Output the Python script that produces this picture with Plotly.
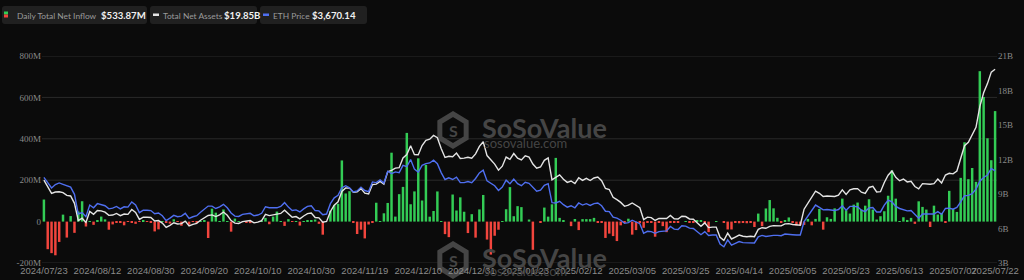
import math
import pandas as pd
import plotly.graph_objects as go

# ---------------- data ----------------
HOLIDAYS = ["2024-09-02", "2024-11-28", "2024-12-25", "2025-01-01", "2025-01-09",
            "2025-01-20", "2025-02-17", "2025-04-18", "2025-05-26", "2025-06-19", "2025-07-04"]
DATES = [d.strftime("%Y/%m/%d") for d in
         pd.bdate_range("2024-07-23", "2025-07-22", freq="C", holidays=HOLIDAYS)]

TICK_LABELS = ["2024/07/23", "2024/08/12", "2024/08/30", "2024/09/20", "2024/10/10",
               "2024/10/30", "2024/11/19", "2024/12/10", "2024/12/31", "2025/01/23",
               "2025/02/12", "2025/03/05", "2025/03/25", "2025/04/14", "2025/05/05",
               "2025/05/23", "2025/06/13", "2025/07/07", "2025/07/22"]

# Daily total net inflow (M USD)
INFLOW = [
    106.6, -133.3, -152.3, -162.7, -98.3, 33.7, -77.2, 26.7, -54.3, 48.8,
    98.4, -23.7, 2.9, -15.7, 4.9, 24.3, 10.8, -39.2, -13.5, -6.5,
    -6.5, -17.9, -0.5, -3.4, -10.8, -1.8, 5.8, -1.9, -5.2, -47.4,
    -37.5, 0.9, -5.2, -9.8, 11.4, -0.5, -20.1, 1.1, -15.1, -1.0,
    -6.5, 0.5, 5.2, -79.3, 62.5, 43.2, 0.5, 58.7, 0.6, -48.6,
    14.5, 0.7, 0.0, -2.0, -7.4, 0.0, 0.0, 0.1, 17.8, -12.7,
    24.2, 48.4, 2.3, -20.8, 11.9, -1.1, 1.2, -19.2, 0.5, 7.6,
    4.4, 10.0, -10.9, -63.2, 0.0, 52.3, 79.7, 85.9, 295.5, 135.9,
    146.9, -3.2, -59.8, -39.1, -81.2, -14.0, -6.0, 91.2, 2.8, 40.1,
    90.1, 332.9, 24.2, 132.6, 167.7, 428.5, 83.8, 145.9, 305.7, 102.0,
    273.7, 23.7, 51.1, 145.7, 2.4, -60.5, -75.1, 130.8, 53.6, 117.2,
    47.7, -55.4, 35.9, -77.5, 58.9, 128.7, -86.8, -159.4, -68.4, -39.4,
    0.1, 59.8, 166.6, 26.0, 74.6, 70.0, 0.0, 10.0, -136.2, 0.0,
    -3.0, 67.8, 24.0, 83.6, 307.8, 18.0, 5.0, 0.0, -22.0, 12.6,
    -41.0, 12.0, 12.0, 12.0, 18.0, -3.0, -3.0, -79.0, -58.0, -70.0,
    -94.0, -18.0, -3.0, 14.0, -63.0, -41.0, -5.0, -30.0, -3.0, -3.0,
    -73.0, -3.0, -22.0, -51.0, -6.0, -2.0, -6.0, 0.0, 1.0, -3.0,
    -6.0, 4.0, 4.0, -3.0, -51.0, 0.0, 2.0, 0.0, -4.0, -38.0,
    -38.0, -3.0, -8.0, -2.0, -8.0, -3.0, -26.0, 38.8, -22.0, 63.5,
    104.1, 64.1, 18.4, -2.0, 6.5, 20.1, -2.0, -18.0, -18.0, -16.0,
    13.0, -18.0, 13.0, 61.0, -39.0, 21.0, 13.0, 64.0, 0.0, 111.0,
    55.0, 39.0, 82.0, 92.0, 58.0, 77.0, 108.0, 58.0, 10.0, 26.0,
    50.0, 125.0, 247.0, 111.0, 2.0, 21.0, 8.0, 18.0, -11.0, 98.0,
    71.0, 58.0, -26.0, 77.0, 34.0, 42.0, -2.0, 148.5, 62.0, 46.8,
    211.3, 383.1, 204.9, 259.0, 192.3, 726.7, 602.0, 402.5, 296.6, 533.87,
]

# Total net assets (B USD)
NET_ASSETS = [
    10.20, 9.65, 9.05, 9.17, 9.20, 9.12, 8.88, 8.83, 8.19, 6.68,
    6.89, 6.53, 7.48, 7.23, 7.56, 7.53, 7.42, 7.14, 7.17, 7.31,
    7.12, 7.26, 7.23, 7.65, 7.40, 6.79, 6.98, 6.98, 6.96, 6.66,
    6.69, 6.47, 6.09, 6.28, 6.50, 6.39, 6.42, 6.64, 6.23, 6.36,
    6.45, 6.72, 6.96, 7.13, 7.18, 7.04, 7.18, 7.43, 7.15, 6.69,
    6.47, 6.44, 6.60, 6.63, 6.69, 6.49, 6.55, 6.69, 7.23, 7.12,
    7.18, 7.20, 7.31, 7.59, 7.26, 6.98, 7.04, 6.84, 7.09, 7.29,
    7.34, 6.96, 6.93, 6.55, 6.61, 7.48, 8.03, 8.32, 9.22, 9.53,
    9.51, 9.15, 9.18, 9.47, 9.08, 9.00, 9.82, 9.86, 10.09, 9.86,
    10.94, 11.06, 11.25, 11.29, 12.14, 12.43, 13.20, 12.42, 12.41, 13.21,
    13.66, 13.77, 14.09, 13.89, 12.96, 12.18, 12.28, 12.24, 12.56, 12.09,
    12.12, 12.20, 12.12, 12.49, 13.14, 13.54, 12.34, 11.95, 11.60, 11.07,
    11.42, 12.21, 12.01, 12.52, 12.11, 11.96, 12.32, 12.21, 11.61, 11.24,
    11.35, 11.93, 12.14, 10.23, 10.44, 10.66, 10.28, 10.01, 10.13, 9.91,
    10.41, 10.18, 10.36, 10.17, 10.39, 10.47, 10.16, 9.48, 9.39, 8.71,
    8.51, 8.27, 7.93, 8.03, 8.22, 8.03, 7.81, 6.77, 6.99, 6.95,
    6.70, 6.88, 6.89, 6.87, 7.13, 6.85, 6.82, 7.07, 7.04, 6.83,
    6.80, 6.46, 6.19, 6.49, 6.08, 6.12, 6.12, 5.24, 4.97, 5.59,
    5.09, 5.26, 5.43, 5.33, 5.29, 5.33, 5.29, 5.93, 6.07, 6.02,
    6.18, 6.25, 6.26, 6.23, 6.40, 6.42, 6.35, 6.30, 6.28, 7.68,
    8.20, 8.70, 9.25, 9.06, 8.79, 8.82, 8.78, 8.79, 8.90, 9.36,
    8.96, 9.37, 9.45, 9.47, 9.16, 9.06, 9.57, 9.66, 9.18, 9.20,
    10.00, 10.63, 11.00, 10.45, 10.15, 10.30, 10.05, 10.10, 9.65, 9.45,
    9.90, 9.85, 9.85, 9.90, 10.30, 9.95, 10.65, 10.80, 10.75, 11.00,
    12.10, 13.20, 13.50, 14.20, 14.80, 16.60, 17.80, 18.60, 19.60, 19.85,
]

# ETH price (USD)
ETH_PRICE = [
    3480, 3340, 3175, 3275, 3320, 3280, 3230, 3200, 2990, 2420,
    2460, 2340, 2680, 2600, 2720, 2700, 2660, 2570, 2590, 2640,
    2570, 2630, 2620, 2770, 2680, 2460, 2530, 2530, 2520, 2430,
    2450, 2370, 2230, 2300, 2380, 2340, 2360, 2440, 2290, 2340,
    2370, 2470, 2560, 2650, 2650, 2580, 2630, 2700, 2600, 2450,
    2360, 2350, 2410, 2420, 2440, 2370, 2390, 2440, 2630, 2600,
    2610, 2600, 2640, 2750, 2620, 2520, 2540, 2480, 2570, 2640,
    2660, 2520, 2510, 2400, 2420, 2720, 2890, 2960, 3180, 3240,
    3180, 3060, 3090, 3200, 3100, 3070, 3350, 3330, 3410, 3320,
    3660, 3590, 3640, 3620, 3830, 3790, 4000, 3720, 3630, 3830,
    3880, 3900, 3980, 3880, 3620, 3420, 3470, 3420, 3490, 3330,
    3330, 3360, 3330, 3450, 3610, 3690, 3380, 3320, 3240, 3100,
    3200, 3400, 3300, 3430, 3300, 3240, 3340, 3310, 3180, 3080,
    3110, 3250, 3300, 2750, 2740, 2790, 2690, 2620, 2660, 2600,
    2740, 2680, 2720, 2670, 2720, 2740, 2660, 2500, 2490, 2330,
    2300, 2240, 2150, 2170, 2240, 2200, 2140, 1860, 1920, 1910,
    1860, 1910, 1920, 1930, 2060, 1980, 1970, 2080, 2070, 2010,
    2000, 1900, 1820, 1910, 1800, 1810, 1810, 1550, 1470, 1670,
    1520, 1570, 1620, 1590, 1580, 1590, 1580, 1760, 1800, 1770,
    1790, 1800, 1800, 1790, 1840, 1840, 1820, 1810, 1810, 2200,
    2350, 2500, 2680, 2610, 2540, 2550, 2530, 2520, 2550, 2660,
    2530, 2640, 2640, 2630, 2530, 2490, 2600, 2610, 2480, 2480,
    2680, 2820, 2770, 2640, 2580, 2550, 2510, 2520, 2410, 2300,
    2420, 2420, 2420, 2420, 2490, 2410, 2580, 2590, 2560, 2610,
    2770, 2950, 2960, 3010, 3140, 3370, 3480, 3550, 3740, 3670.14,
]

LEFT_TICKS = [-200, 0, 200, 400, 600, 800]
LEFT_TEXT = ["-200M", "0", "200M", "400M", "600M", "800M"]
RIGHT_TICKS = [3, 6, 9, 12, 15, 18, 21]
RIGHT_TEXT = ["3B", "6B", "9B", "12B", "15B", "18B", "21B"]

# ---------------- style ----------------
BG = "#0b0b0b"
GREEN = "#33cc55"
RED = "#f2453d"
WHITE_LINE = "#e4e4e4"
BLUE_LINE = "#4f6ff0"
GRID = "#2a2a2a"
TICK_COL = "#8a8a8a"
WM = "#454545"

W, H = 1024, 280
L, R, T, B = 42, 27, 56, 17
PW, PH = W - L - R, H - T - B


def px(x):
    return (x - L) / PW


def py(y):
    return (H - B - y) / PH


bar_colors = [GREEN if v >= 0 else RED for v in INFLOW]

fig = go.Figure()
fig.add_trace(go.Bar(x=DATES, y=INFLOW, marker=dict(color=bar_colors, line=dict(width=0)),
                     yaxis="y", name="Daily Total Net Inflow"))
fig.add_trace(go.Scatter(x=DATES, y=NET_ASSETS, mode="lines", yaxis="y2",
                         line=dict(color=WHITE_LINE, width=1.4), name="Total Net Assets"))
fig.add_trace(go.Scatter(x=DATES, y=ETH_PRICE, mode="lines", yaxis="y3",
                         line=dict(color=BLUE_LINE, width=1.4), name="ETH Price"))

shapes = []
for v in [-200, 200, 400, 600, 800]:
    shapes.append(dict(type="line", xref="paper", x0=0, x1=1, yref="y", y0=v, y1=v,
                       line=dict(color=GRID, width=1), layer="below"))


def rounded(x0, y0, x1, y1, r, color):
    X0, X1 = px(x0), px(x1)
    Y0, Y1 = py(y0), py(y1)
    rx, ry = r / PW, r / PH
    p = (f"M {X0+rx},{Y0} L {X1-rx},{Y0} Q {X1},{Y0} {X1},{Y0-ry} "
         f"L {X1},{Y1+ry} Q {X1},{Y1} {X1-rx},{Y1} L {X0+rx},{Y1} "
         f"Q {X0},{Y1} {X0},{Y1+ry} L {X0},{Y0-ry} Q {X0},{Y0} {X0+rx},{Y0} Z")
    return dict(type="path", xref="paper", yref="paper", path=p,
                fillcolor=color, line=dict(width=0), layer="above")


def rect(x0, y0, x1, y1, color):
    return dict(type="rect", xref="paper", yref="paper", x0=px(x0), x1=px(x1), y0=py(y1), y1=py(y0),
                fillcolor=color, line=dict(width=0), layer="above")


# legend pills
shapes.append(rounded(2, 6, 147, 24, 3, "#202020"))
shapes.append(rounded(150, 6, 257, 24, 3, "#202020"))
shapes.append(rounded(260, 6, 367, 24, 3, "#202020"))
# legend icons
shapes.append(rect(4, 11.5, 8, 14.5, GREEN))
shapes.append(rect(4, 14.5, 8, 17.5, RED))
shapes.append(rect(153, 13.5, 159, 16, WHITE_LINE))
shapes.append(rect(263, 13.5, 269, 16, BLUE_LINE))


# watermark hexagon logos
def hexagon(cx, cy, r):
    pts = []
    for a in [90, 30, -30, -90, -150, 150]:
        pts.append((cx + r * math.cos(math.radians(a)) * 0.95, cy - r * math.sin(math.radians(a))))
    p = "M " + " L ".join(f"{px(x)},{py(y)}" for x, y in pts) + " Z"
    return dict(type="path", xref="paper", yref="paper", path=p,
                line=dict(color=WM, width=5), fillcolor="rgba(0,0,0,0)", layer="below")


shapes.append(hexagon(453, 130, 16))
shapes.append(hexagon(453, 260, 16))

ann = []
legend_items = [
    (15, "Daily Total Net Inflow", 99, "$533.87M"),
    (161, "Total Net Assets", 222, "$19.85B"),
    (271, "ETH Price", 310, "$3,670.14"),
]
for x_lab, lab, x_val, val in legend_items:
    ann.append(dict(xref="paper", yref="paper", x=px(x_lab), y=py(15.5), xanchor="left", yanchor="middle",
                    text=lab, showarrow=False, font=dict(family="Lato", size=8.4, color="#9a9a9a")))
    ann.append(dict(xref="paper", yref="paper", x=px(x_val), y=py(15), xanchor="left", yanchor="middle",
                    text=f"<b>{val}</b>", showarrow=False, font=dict(family="Lato", size=9.6, color="#f0f0f0")))

for cy, sub_dy in [(127, 16), (257, 14)]:
    ann.append(dict(xref="paper", yref="paper", x=px(480), y=py(cy), xanchor="left", yanchor="middle",
                    text="<b>SoSoValue</b>", showarrow=False, font=dict(family="Lato", size=27, color=WM)))
    ann.append(dict(xref="paper", yref="paper", x=px(482), y=py(cy + sub_dy), xanchor="left", yanchor="middle",
                    text="sosovalue.com", showarrow=False, font=dict(family="Lato", size=13, color=WM)))
    ann.append(dict(xref="paper", yref="paper", x=px(453), y=py(cy + 3), xanchor="center", yanchor="middle",
                    text="<b>S</b>", showarrow=False, font=dict(family="Lato", size=16, color=WM)))

fig.update_layout(
    width=W, height=H,
    margin=dict(l=L, r=R, t=T, b=B, pad=0),
    paper_bgcolor=BG, plot_bgcolor=BG,
    showlegend=False,
    bargap=0.35,
    shapes=shapes,
    annotations=ann,
    xaxis=dict(type="category", range=[-0.5, len(DATES) - 0.5], tickmode="array",
               tickvals=TICK_LABELS, ticktext=TICK_LABELS, tickangle=0, automargin=False,
               showgrid=False, zeroline=False, showline=False, ticks="",
               tickfont=dict(family="Liberation Sans", size=9.5, color=TICK_COL)),
    yaxis=dict(range=[-200, 800], tickmode="array", tickvals=LEFT_TICKS, ticktext=LEFT_TEXT,
               showgrid=False, zeroline=False, showline=False, ticks="", automargin=False,
               tickfont=dict(family="Liberation Serif", size=9, color=TICK_COL)),
    yaxis2=dict(range=[3, 21], overlaying="y", side="right", tickmode="array",
                tickvals=RIGHT_TICKS, ticktext=RIGHT_TEXT, automargin=False,
                showgrid=False, zeroline=False, showline=False, ticks="",
                tickfont=dict(family="Liberation Serif", size=9, color=TICK_COL)),
    yaxis3=dict(range=[1000, 7000], overlaying="y", visible=False),
)

fig.write_html("out.html")
